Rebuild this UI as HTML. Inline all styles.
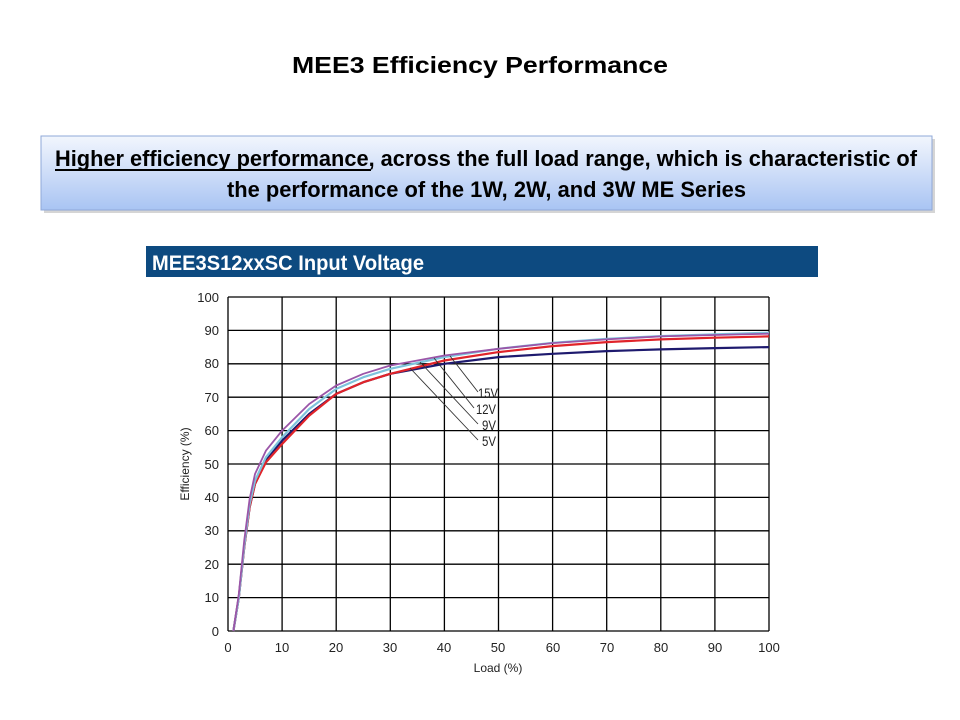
<!DOCTYPE html>
<html><head><meta charset="utf-8"><style>
html,body{margin:0;padding:0;background:#fff;}
svg{display:block;}
text{font-family:"Liberation Sans",Arial,sans-serif;}
</style></head><body>
<svg width="960" height="720" viewBox="0 0 960 720" xmlns="http://www.w3.org/2000/svg">
<defs>
<linearGradient id="bg" x1="0" y1="0" x2="0" y2="1">
<stop offset="0" stop-color="#f2f6fd"/><stop offset="1" stop-color="#a9c4f3"/>
</linearGradient>
</defs>
<text x="480" y="73" text-anchor="middle" font-size="23" font-weight="bold" textLength="376" lengthAdjust="spacingAndGlyphs">MEE3 Efficiency Performance</text>
<rect x="44" y="139" width="891" height="74" fill="#888" opacity="0.35"/>
<rect x="41" y="136" width="891" height="74" fill="url(#bg)" stroke="#8fa8d8" stroke-width="1"/>
<text x="55" y="166" font-size="22" font-weight="bold" textLength="862" lengthAdjust="spacingAndGlyphs">Higher efficiency performance, across the full load range, which is characteristic of</text>
<line x1="55" y1="170" x2="371" y2="170" stroke="#000" stroke-width="2"/>
<text x="227" y="197" font-size="22" font-weight="bold" textLength="519" lengthAdjust="spacingAndGlyphs">the performance of the 1W, 2W, and 3W ME Series</text>
<rect x="146" y="246" width="672" height="31" fill="#0d4a80"/>
<text x="152" y="270" font-size="21" font-weight="bold" fill="#fff" textLength="272" lengthAdjust="spacingAndGlyphs">MEE3S12xxSC Input Voltage</text>
<g stroke="#000" stroke-width="1.3">
<line x1="228" y1="297" x2="769" y2="297"/><line x1="228" y1="330.4" x2="769" y2="330.4"/><line x1="228" y1="363.8" x2="769" y2="363.8"/><line x1="228" y1="397.2" x2="769" y2="397.2"/><line x1="228" y1="430.6" x2="769" y2="430.6"/><line x1="228" y1="464" x2="769" y2="464"/><line x1="228" y1="497.4" x2="769" y2="497.4"/><line x1="228" y1="530.8" x2="769" y2="530.8"/><line x1="228" y1="564.2" x2="769" y2="564.2"/><line x1="228" y1="597.6" x2="769" y2="597.6"/><line x1="228" y1="631" x2="769" y2="631"/>
<line x1="228" y1="297" x2="228" y2="631"/><line x1="282.1" y1="297" x2="282.1" y2="631"/><line x1="336.2" y1="297" x2="336.2" y2="631"/><line x1="390.3" y1="297" x2="390.3" y2="631"/><line x1="444.4" y1="297" x2="444.4" y2="631"/><line x1="498.5" y1="297" x2="498.5" y2="631"/><line x1="552.6" y1="297" x2="552.6" y2="631"/><line x1="606.7" y1="297" x2="606.7" y2="631"/><line x1="660.8" y1="297" x2="660.8" y2="631"/><line x1="714.9" y1="297" x2="714.9" y2="631"/><line x1="769" y1="297" x2="769" y2="631"/>
</g>
<g font-size="13" text-anchor="end" fill="#222">
<text x="219" y="302">100</text><text x="219" y="335">90</text><text x="219" y="368">80</text><text x="219" y="402">70</text><text x="219" y="435">60</text><text x="219" y="469">50</text><text x="219" y="502">40</text><text x="219" y="535">30</text><text x="219" y="569">20</text><text x="219" y="602">10</text><text x="219" y="636">0</text>
</g>
<g font-size="13" text-anchor="middle" fill="#222">
<text x="228" y="652">0</text><text x="282" y="652">10</text><text x="336" y="652">20</text><text x="390" y="652">30</text><text x="444" y="652">40</text><text x="498" y="652">50</text><text x="553" y="652">60</text><text x="607" y="652">70</text><text x="661" y="652">80</text><text x="715" y="652">90</text><text x="769" y="652">100</text>
</g>
<text x="498" y="672" font-size="12" text-anchor="middle" fill="#222">Load (%)</text>
<text transform="translate(189,464) rotate(-90)" font-size="12" text-anchor="middle" fill="#222">Efficiency (%)</text>
<g fill="none" stroke-width="2.2" stroke-linejoin="round">
<polyline stroke="#1e1a6e" points="233.4,631 238.8,597.6 244.2,547.5 249.6,507.4 255,484 265.9,460.7 282.1,440.6 309.2,413.9 336.2,393.9 363.3,382.2 390.3,373.8 444.4,363.8 498.5,357.1 552.6,353.8 606.7,351.1 660.8,349.4 714.9,348.1 769,347.1"/>
<polyline stroke="#e0242a" points="233.4,631 238.8,597.6 244.2,547.5 249.6,507.4 255,484 265.9,462.4 282.1,444 309.2,415.6 336.2,393.9 363.3,382.2 390.3,373.8 444.4,360.5 498.5,352.1 552.6,346.1 606.7,342.1 660.8,339.4 714.9,337.7 769,336.4"/>
<polyline stroke="#7dc3dc" points="233.4,631 238.8,597.6 244.2,545.8 249.6,504.1 255,480.7 265.9,457.3 282.1,437.3 309.2,409 336.2,388.9 363.3,377.2 390.3,368.8 444.4,357.1 498.5,348.8 552.6,342.8 606.7,338.8 660.8,336.1 714.9,334.4 769,332.7"/>
<polyline stroke="#9b55a8" stroke-width="1.8" points="233.4,631 238.8,594.3 244.2,540.8 249.6,499.1 255,474 265.9,450.7 282.1,430.6 309.2,404 336.2,385.5 363.3,373.8 390.3,365.5 444.4,355.5 498.5,348.8 552.6,343.1 606.7,339.4 660.8,336.4 714.9,335 769,333.7"/>
</g>
<g stroke="#333" stroke-width="0.9">
<line x1="450" y1="356" x2="478" y2="392"/>
<line x1="434" y1="358" x2="474" y2="408"/>
<line x1="420" y1="362" x2="478" y2="424"/>
<line x1="410" y1="368" x2="478" y2="440"/>
</g>
<g font-size="14" fill="#222">
<text x="478" y="398" textLength="20" lengthAdjust="spacingAndGlyphs">15V</text>
<text x="476" y="414" textLength="20" lengthAdjust="spacingAndGlyphs">12V</text>
<text x="482" y="430" textLength="14" lengthAdjust="spacingAndGlyphs">9V</text>
<text x="482" y="446" textLength="14" lengthAdjust="spacingAndGlyphs">5V</text>
</g>
</svg>
</body></html>
